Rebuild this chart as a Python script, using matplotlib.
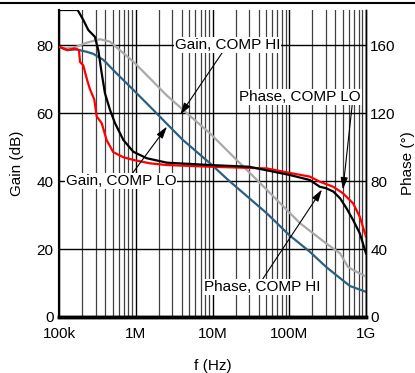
import matplotlib
matplotlib.use("Agg")
import matplotlib.pyplot as plt
from matplotlib.ticker import FixedLocator, NullFormatter, LogLocator
from matplotlib.lines import Line2D

plt.rcParams["font.family"] = ["Liberation Sans", "DejaVu Sans"]
plt.rcParams["font.size"] = 11

# ----------------------------
# Data
# ----------------------------
# Gain, COMP HI (grey), dB
gain_hi_f = [1e5, 1.26e5, 1.7e5, 2.3e5, 3.42e5, 4.6e5, 6.2e5, 9.3e5, 1.53e6, 2.5e6,
             4.4e6, 9.3e6, 2e7, 3.8e7, 1.38e8, 3.0e8, 4.6e8, 5.8e8, 6.8e8, 1e9]
gain_hi = [79.5, 79.0, 79.5, 80.7, 81.7, 81.0, 78.5, 75.1, 70.2, 65.3,
           60.4, 54.0, 46.5, 40.3, 27.6, 21.7, 18.7, 14.8, 13.8, 11.9]

# Gain, COMP LO (blue), dB
gain_lo_f = [1e5, 1.26e5, 1.7e5, 2.3e5, 2.8e5, 3.8e5, 5.6e5, 9.3e5, 1.53e6, 2.5e6,
             4.1e6, 9.3e6, 1.6e7, 5.1e7, 1e8, 1.85e8, 3.0e8, 4.6e8, 6.2e8, 1e9]
gain_lo = [79.5, 78.5, 78.7, 78.0, 77.4, 75.6, 71.7, 66.8, 61.9, 57.0,
           52.1, 45.2, 40.3, 30.5, 24.1, 19.2, 14.8, 11.4, 9.1, 7.4]

# Phase, COMP LO (red), degrees
phase_lo_f = [1e5, 1.3e5, 1.6e5, 1.82e5, 1.88e5, 2.07e5, 2.34e5, 2.53e5, 2.88e5, 3.1e5,
              3.6e5, 4.18e5, 5.09e5, 6.88e5, 9.3e5, 1.53e6, 2.53e6, 9.3e6, 5.1e7, 1e8,
              1.85e8, 2.5e8, 3.75e8, 5.0e8, 6.8e8, 8.3e8, 1e9]
phase_lo = [159, 157, 158, 157, 150, 148, 139, 134, 128, 118,
            114, 104, 97, 94, 92.4, 90.4, 89.4, 88.4, 87.4, 84.8,
            82.6, 79.6, 76.6, 72.8, 66.8, 59, 47.2]

# Phase, COMP HI (black), degrees
phase_hi_f = [1e5, 1.75e5, 2.07e5, 2.41e5, 2.94e5, 3.25e5, 3.6e5, 3.97e5, 4.62e5, 5.37e5,
              6.88e5, 9.3e5, 1.39e6, 2.53e6, 9.3e6, 3e7, 1e8, 1.85e8, 2.5e8, 3.0e8,
              3.75e8, 4.6e8, 5.6e8, 6.8e8, 8.3e8, 1e9]
phase_hi = [180.6, 180.6, 174.8, 168.8, 164.8, 157, 143.4, 131.6, 121.8, 114,
            104.2, 97.2, 93.4, 90.8, 89.4, 88.4, 83.6, 80.6, 76.6, 75.8,
            73.8, 69.8, 63.8, 57, 49.2, 37.4]

xticks = [1e5, 1e6, 1e7, 1e8, 1e9]
xticklabels = ["100k", "1M", "10M", "100M", "1G"]
gain_ticks = [0, 20, 40, 60, 80]
phase_ticks = [0, 40, 80, 120, 160]

# ----------------------------
# Plot
# ----------------------------
fig = plt.figure(figsize=(4.15, 3.73), dpi=100)
ax = fig.add_axes([59 / 415, 56 / 373, 307 / 415, 307 / 373])
ax2 = ax.twinx()

ax.set_xscale("log")
ax.set_xlim(1e5, 1e9)
ax.set_ylim(0, 90.3)
ax2.set_ylim(0, 180.6)

ax.plot(gain_hi_f, gain_hi, color="#a9a9a9", lw=1.6, zorder=3)
ax.plot(gain_lo_f, gain_lo, color="#2b6080", lw=1.6, zorder=3)
ax2.plot(phase_lo_f, phase_lo, color="#ff0000", lw=1.6, zorder=3)
ax2.plot(phase_hi_f, phase_hi, color="black", lw=1.6, zorder=3)

# grid
ax.xaxis.set_major_locator(FixedLocator(xticks))
ax.set_xticklabels(xticklabels)
ax.xaxis.set_minor_locator(LogLocator(base=10, subs=range(2, 10)))
ax.xaxis.set_minor_formatter(NullFormatter())
ax.grid(which="major", axis="x", color="black", lw=1.0)
ax.grid(which="minor", axis="x", color="#404040", lw=0.9)
ax.grid(which="major", axis="y", color="black", lw=1.0)
ax.set_axisbelow(True)

ax.set_yticks(gain_ticks)
ax2.set_yticks(phase_ticks)
ax.tick_params(axis="both", which="both", length=0)
ax.tick_params(axis="y", pad=4)
ax.tick_params(axis="x", pad=7)
ax2.tick_params(axis="y", length=0, pad=3)

for a in (ax, ax2):
    a.spines["top"].set_visible(False)
    a.spines["left"].set_linewidth(1.5)
    a.spines["bottom"].set_linewidth(2.5)
    a.spines["right"].set_linewidth(1.0)

ax.set_xlabel("f (Hz)", labelpad=13)
ax.set_ylabel("Gain (dB)", labelpad=9)
ax2.set_ylabel("Phase (°)", labelpad=4)

# annotations
def arrow(rel):
    return dict(arrowstyle="-|>,head_length=0.6,head_width=0.18", color="black",
                lw=0.8, mutation_scale=12, shrinkA=0, shrinkB=0, relpos=rel)

box = dict(boxstyle="square,pad=0.05", fc="white", ec="none")
ax2.annotate("Gain, COMP HI", xy=(3.8e6, 59.5), xycoords=ax.transData,
             xytext=(1.59e7, 80), textcoords=ax.transData,
             ha="center", va="center", bbox=box, arrowprops=arrow((0.45, 0)), zorder=5)
ax2.annotate("Gain, COMP LO", xy=(2.55e6, 56), xycoords=ax.transData,
             xytext=(6.4e5, 40), textcoords=ax.transData,
             ha="center", va="center", bbox=box, arrowprops=arrow((0.6, 1)), zorder=5)
ax2.annotate("Phase, COMP LO", xy=(5.0e8, 75), xytext=(1.38e8, 129.4),
             ha="center", va="center", bbox=box, arrowprops=arrow((0.93, 0)), zorder=5)
ax2.annotate("Phase, COMP HI", xy=(2.67e8, 75), xytext=(4.42e7, 17.6),
             ha="center", va="center", bbox=box, arrowprops=arrow((0.5, 1)), zorder=5)

# top rule across the figure
fig.add_artist(Line2D([0, 1], [1 - 3 / 373, 1 - 3 / 373], color="black", lw=1.5))

fig.savefig("out.png", dpi=100)
